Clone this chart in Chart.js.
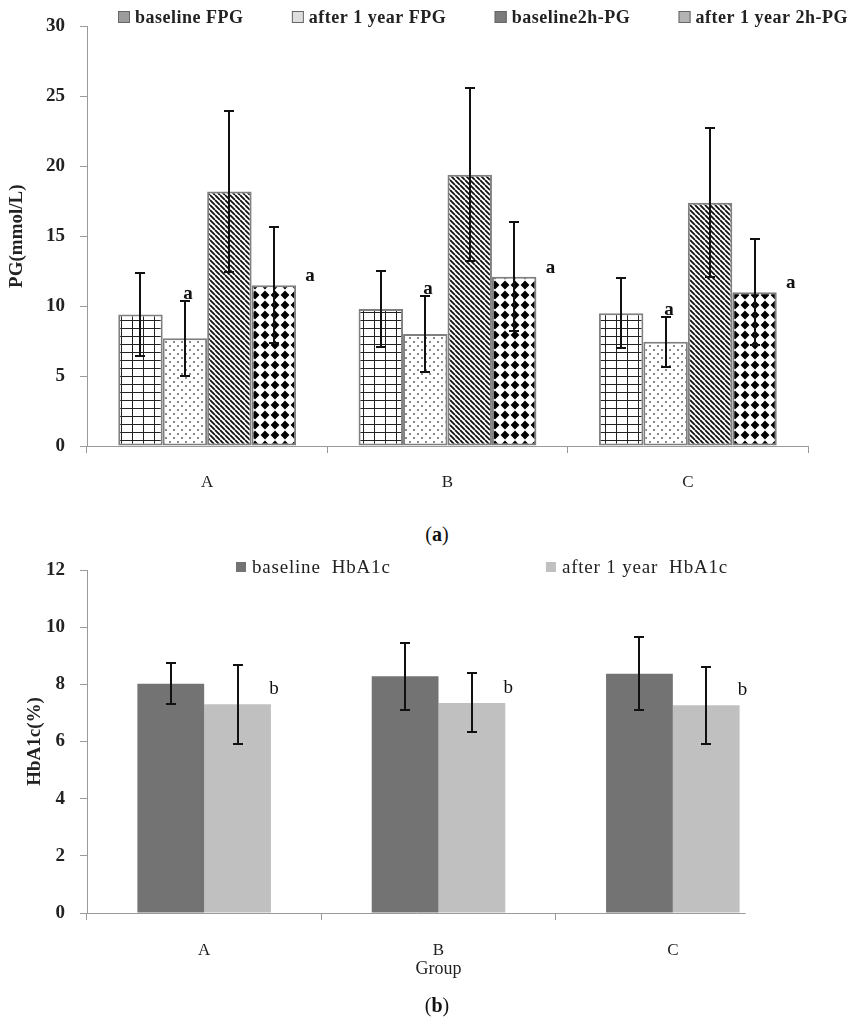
<!DOCTYPE html>
<html>
<head>
<meta charset="utf-8">
<script src="https://cdn.jsdelivr.net/npm/chart.js@4.4.1/dist/chart.umd.min.js"></script>
<style>
  body { margin: 0; background: #fff; width: 853px; height: 1024px; position: relative; overflow: hidden; font-family: "Liberation Serif", "Times New Roman", serif; }
  canvas { position: absolute; left: 0; }
  #pg { top: 0; }
  #hb { top: 520px; }
  .cap { position: absolute; left: 0; width: 874px; text-align: center; font-size: 20px; color: #111; line-height: 24px; }
  .cap b { font-weight: bold; }
</style>
</head>
<body>
<canvas id="pg" width="853" height="500"></canvas>
<div class="cap" style="top:522px">(<b>a</b>)</div>
<canvas id="hb" width="853" height="504"></canvas>
<div class="cap" style="top:993px">(<b>b</b>)</div>
<script>
// groups + values (mean, SD)
const groups = ["A", "B", "C"];

const pgLabels = ["baseline FPG", "after 1 year FPG", "baseline2h-PG", "after 1 year 2h-PG"];
const baselineFPG = [9.4, 9.8, 9.5];
const baselineFPGsd = [2.95, 2.7, 2.5];
const after1yFPG = [7.7, 8.0, 7.45];
const after1yFPGsd = [2.7, 2.7, 1.8];
const baseline2hPG = [18.2, 19.4, 17.4];
const baseline2hPGsd = [5.75, 6.2, 5.35];
const after1y2hPG = [11.5, 12.1, 11.0];
const after1y2hPGsd = [4.15, 3.9, 3.8];
const pgMarks = ["", "a", "", "a"];

const hbLabels = ["baseline  HbA1c", "after 1 year  HbA1c"];
const baselineHbA1c = [8.02, 8.28, 8.37];
const baselineHbA1csd = [0.72, 1.17, 1.27];
const after1yHbA1c = [7.3, 7.35, 7.27];
const after1yHbA1csd = [1.37, 1.03, 1.35];
const hbMarks = ["", "b"];

const SERIF = "'Liberation Serif', 'Times New Roman', serif";
Chart.defaults.font.family = SERIF;
Chart.defaults.color = "#222";

// fill patterns for the PG bars
function tile(w, h, draw) {
  const c = document.createElement("canvas");
  c.width = w;
  c.height = h;
  const g = c.getContext("2d");
  g.fillStyle = "#fff";
  g.fillRect(0, 0, w, h);
  draw(g, w, h);
  return g.createPattern(c, "repeat");
}
const gridFill = tile(11, 8, (g, w, h) => {
  g.fillStyle = "#222";
  g.fillRect(0, 0, w, 1);
  g.fillRect(0, 0, 1, h);
});
const dotFill = tile(8, 8, (g) => {
  g.fillStyle = "#8a8a8a";
  g.fillRect(1, 1, 2, 2);
  g.fillRect(5, 5, 2, 2);
});
const stripeFill = tile(5, 5, (g, w, h) => {
  g.strokeStyle = "#111";
  g.lineWidth = 1.8;
  g.beginPath();
  for (let k = -1; k <= 1; k++) {
    g.moveTo(k * w, 0);
    g.lineTo(k * w + w, h);
  }
  g.stroke();
});
const diamondFill = tile(10, 10, (g) => {
  g.fillStyle = "#000";
  g.beginPath();
  g.moveTo(5, 0.6);
  g.lineTo(9.4, 5);
  g.lineTo(5, 9.4);
  g.lineTo(0.6, 5);
  g.closePath();
  g.fill();
});

// error bars + significance letters
const marks = {
  id: "marks",
  afterDatasetsDraw(chart, _args, o) {
    const { ctx } = chart;
    const y = chart.scales.y;
    chart.data.datasets.forEach((ds, i) => {
      chart.getDatasetMeta(i).data.forEach((bar, j) => {
        const v = ds.data[j];
        const e = ds.sd[j];
        const t = Math.round(y.getPixelForValue(v + e));
        const b = Math.round(y.getPixelForValue(v - e));
        const x = Math.round(bar.x);
        ctx.save();
        ctx.strokeStyle = "#111";
        ctx.lineWidth = o.lw;
        ctx.beginPath();
        ctx.moveTo(x, t);
        ctx.lineTo(x, b);
        ctx.moveTo(x - o.cap, t);
        ctx.lineTo(x + o.cap, t);
        ctx.moveTo(x - o.cap, b);
        ctx.lineTo(x + o.cap, b);
        ctx.stroke();
        if (ds.mark) {
          ctx.fillStyle = "#111";
          ctx.font = o.font;
          ctx.textAlign = "center";
          ctx.textBaseline = "middle";
          if (ds.markAt === "err") ctx.fillText(ds.mark, x + 3, t - 7);
          else ctx.fillText(ds.mark, bar.x + bar.width / 2 + o.side, bar.y - o.rise);
        }
        ctx.restore();
      });
    });
  },
};

// one-row legend spread between x0 and x1
const rowLegend = {
  id: "rowLegend",
  afterDraw(chart, _args, o) {
    const { ctx } = chart;
    ctx.save();
    ctx.font = o.font;
    ctx.letterSpacing = o.spacing;
    const items = chart.data.datasets.map((ds) => ({
      text: ds.label,
      fill: ds.swatch,
      w: o.box + o.gap + ctx.measureText(ds.label).width,
    }));
    const total = items.reduce((s, it) => s + it.w, 0);
    const space = (o.x1 - o.x0 - total) / (items.length - 1);
    let x = o.x0;
    ctx.textBaseline = "middle";
    ctx.textAlign = "left";
    for (const it of items) {
      ctx.fillStyle = it.fill;
      ctx.fillRect(x, o.y - o.box / 2, o.box, o.box);
      if (o.stroke) {
        ctx.strokeStyle = o.stroke;
        ctx.lineWidth = 1;
        ctx.strokeRect(x + 0.5, o.y - o.box / 2 + 0.5, o.box - 1, o.box - 1);
      }
      ctx.fillStyle = "#222";
      ctx.fillText(it.text, x + o.box + o.gap, o.y + 1);
      x += it.w + space;
    }
    ctx.restore();
  },
};

function pgSet(i, data, sd, fill, swatch, markAt) {
  return {
    label: pgLabels[i],
    data,
    sd,
    mark: pgMarks[i],
    markAt,
    swatch,
    backgroundColor: fill,
    borderColor: "#808080",
    borderWidth: 2,
    borderSkipped: false,
    categoryPercentage: 0.74,
    barPercentage: 1,
  };
}

new Chart(document.getElementById("pg"), {
  type: "bar",
  data: {
    labels: groups,
    datasets: [
      pgSet(0, baselineFPG, baselineFPGsd, gridFill, "#9c9c9c"),
      pgSet(1, after1yFPG, after1yFPGsd, dotFill, "#dedede", "err"),
      pgSet(2, baseline2hPG, baseline2hPGsd, stripeFill, "#7c7c7c"),
      pgSet(3, after1y2hPG, after1y2hPGsd, diamondFill, "#b4b4b4", "side"),
    ],
  },
  options: {
    responsive: false,
    animation: false,
    devicePixelRatio: 1,
    layout: { padding: { left: 0, right: 45, top: 14, bottom: 0 } },
    plugins: {
      legend: { display: false },
      tooltip: { enabled: false },
      marks: { lw: 2, cap: 5, font: `bold 19px ${SERIF}`, side: 14, rise: 9 },
      rowLegend: { x0: 118, x1: 848, y: 17, box: 12, gap: 5, font: `bold 18px ${SERIF}`, spacing: "0.5px", stroke: "#666" },
    },
    scales: {
      x: {
        afterFit: (s) => { s.height = 54; },
        grid: { offset: true, drawOnChartArea: false, tickLength: 7, color: "#9a9a9a" },
        border: { color: "#9a9a9a" },
        ticks: { padding: 19, font: { size: 17 }, color: "#222" },
      },
      y: {
        min: 0,
        max: 30,
        afterFit: (s) => { s.width = 87; },
        grid: { drawOnChartArea: false, tickLength: 7, color: "#9a9a9a" },
        border: { color: "#9a9a9a" },
        ticks: { stepSize: 5, padding: 15, font: { size: 19, weight: "bold" }, color: "#222" },
        title: { display: true, text: "PG(mmol/L)", font: { size: 19, weight: "bold" }, color: "#222", padding: { top: 6, bottom: 4 } },
      },
    },
  },
  plugins: [marks, rowLegend],
});

function hbSet(i, data, sd, color, markAt) {
  return {
    label: hbLabels[i],
    data,
    sd,
    mark: hbMarks[i],
    markAt,
    swatch: color,
    backgroundColor: color,
    borderWidth: 0,
    categoryPercentage: 0.57,
    barPercentage: 1,
  };
}

// x axis line in the lower chart stops just past the last bar
const shortAxis = {
  id: "shortAxis",
  afterDraw(chart) {
    const meta = chart.getDatasetMeta(chart.data.datasets.length - 1);
    const last = meta.data[meta.data.length - 1];
    const { ctx, chartArea } = chart;
    ctx.save();
    ctx.strokeStyle = "#9a9a9a";
    ctx.lineWidth = 1;
    ctx.beginPath();
    ctx.moveTo(chartArea.left, chartArea.bottom + 0.5);
    ctx.lineTo(last.x + last.width / 2 + 6, chartArea.bottom + 0.5);
    ctx.stroke();
    ctx.restore();
  },
};

new Chart(document.getElementById("hb"), {
  type: "bar",
  data: {
    labels: groups,
    datasets: [
      hbSet(0, baselineHbA1c, baselineHbA1csd, "#737373"),
      hbSet(1, after1yHbA1c, after1yHbA1csd, "#c0c0c0", "side"),
    ],
  },
  options: {
    responsive: false,
    animation: false,
    devicePixelRatio: 1,
    layout: { padding: { left: 0, right: 63, top: 50, bottom: 40 } },
    plugins: {
      legend: { display: false },
      tooltip: { enabled: false },
      marks: { lw: 2, cap: 5, font: `19px ${SERIF}`, side: 3, rise: 15 },
      rowLegend: { x0: 236, x1: 728, y: 47, box: 10, gap: 6, font: `19px ${SERIF}`, spacing: "0.8px" },
    },
    scales: {
      x: {
        afterFit: (s) => { s.height = 71; },
        grid: {
          offset: true,
          drawOnChartArea: false,
          tickLength: 7,
          color: (c) => (c.type === "tick" ? "#9a9a9a" : "rgba(0,0,0,0)"),
        },
        border: { display: false },
        ticks: { padding: 20, font: { size: 17 }, color: "#222" },
        title: { display: true, text: "Group", font: { size: 18 }, color: "#222", padding: { top: 0, bottom: 4 } },
      },
      y: {
        min: 0,
        max: 12,
        afterFit: (s) => { s.width = 87; },
        grid: { drawOnChartArea: false, tickLength: 7, color: "#9a9a9a" },
        border: { color: "#9a9a9a" },
        ticks: { stepSize: 2, padding: 15, font: { size: 19, weight: "bold" }, color: "#222" },
        title: { display: true, text: "HbA1c(%)", font: { size: 19, weight: "bold" }, color: "#222", padding: { top: 24, bottom: 4 } },
      },
    },
  },
  plugins: [marks, rowLegend, shortAxis],
});
</script>
</body>
</html>
